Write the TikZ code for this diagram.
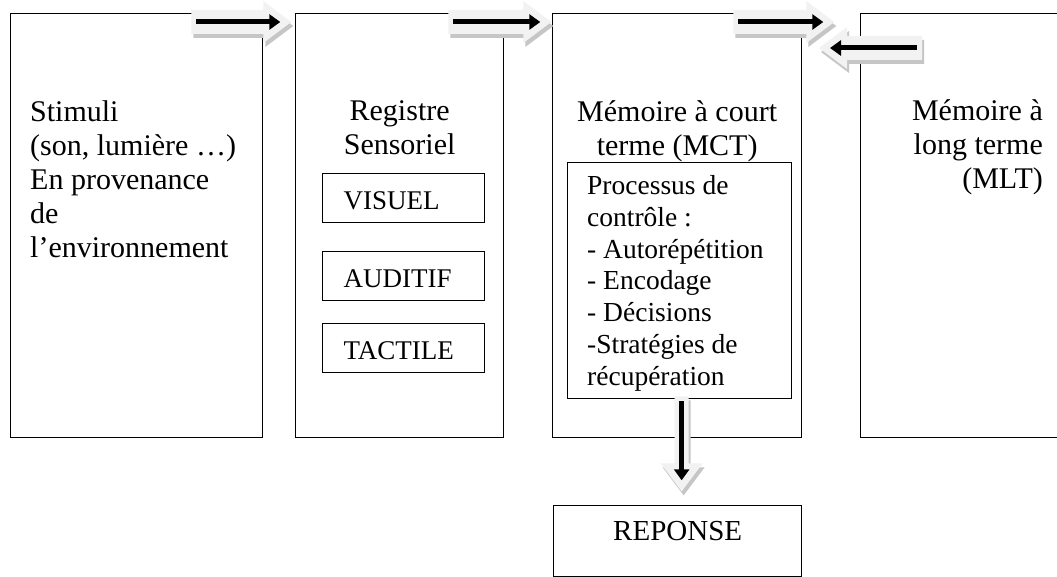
\documentclass[tikz,border=0pt]{standalone}
\usepackage{fontspec}
\setmainfont{Liberation Serif}
\usetikzlibrary{calc,arrows.meta}

\tikzset{
    box/.style={draw, line width=1.3pt, inner sep=0pt},
    lbl/.style={inner sep=0pt, font=\fontsize{30}{34}\selectfont},
    small/.style={inner sep=0pt, font=\fontsize{27.5}{31.7}\selectfont},
    item/.style={box, minimum width=162pt, minimum height=49pt, text width=120pt,
        inner xsep=21pt, align=left, text height=22pt, text depth=0pt,
        font=\fontsize{27}{31}\selectfont},
    arrowfill/.style={fill=gray!10,
        preaction={fill=gray!45, transform canvas={shift={(2pt,-4pt)}}}},
    blackarrow/.style={line width=5pt, -{Triangle[length=11pt,width=15pt]}},
    pics/blockarrow/.style args={#1/#2}{code={
        \fill[arrowfill] (0,-#2) -- ({#1-28},-#2) -- ({#1-28},-21) -- (#1,0)
            -- ({#1-28},21) -- ({#1-28},#2) -- (0,#2) -- cycle;
        \draw[blackarrow] (5,0) -- ({#1-11},0);
    }}
}

\begin{document}
\begin{tikzpicture}[x=1pt,y=-1pt]
    \useasboundingbox (0,0) rectangle (1057,577);
    \clip (0,0) rectangle (1057,577);
    \fill[white] (0,0) rectangle (1057,577);
    % the four stores
    \node[box, anchor=north west, minimum width=252pt, minimum height=424pt] (stim) at (10,13) {};
    \node[box, anchor=north west, minimum width=208pt, minimum height=424pt] (reg) at (295,13) {};
    \node[box, anchor=north west, minimum width=249pt, minimum height=424pt] (mct) at (552,13) {};
    \node[box, anchor=north west, minimum width=240pt, minimum height=424pt] (mlt) at (860,13) {};

    % base anchor sits on the last line
    \node[lbl, anchor=base west, align=left] (stimtxt) at ([xshift=20pt,yshift=-245pt]stim.north west)
        {Stimuli\\(son, lumière …)\\En provenance\\de\\l’environnement};
    \node[lbl, anchor=base, align=center] (regtxt) at ([yshift=-142pt]reg.north) {Registre\\Sensoriel};
    \node[lbl, anchor=base, align=center] (mcttxt) at ([yshift=-143pt]mct.north) {Mémoire à court\\terme (MCT)};
    \node[lbl, anchor=base east, align=right] (mlttxt) at ([xshift=183pt,yshift=-176pt]mlt.north west)
        {Mémoire à\\long terme\\(MLT)};

    % sensory channels
    \foreach \name/\txt/\y in {vis/VISUEL/173, aud/AUDITIF/251, tac/TACTILE/323}{
        \node[item, anchor=north west] (\name) at (322,\y) {\txt};
    }

    % control processes
    \node[box, anchor=north west, minimum width=224pt, minimum height=236pt] (proc) at (567,162) {};
    \node[small, anchor=base west, align=left] (proctxt) at ([xshift=20pt,yshift=-223pt]proc.north west)
        {Processus de\\contrôle :\\- Autorépétition\\- Encodage\\- Décisions\\-Stratégies de\\récupération};

    \node[box, anchor=north west, minimum width=248pt, minimum height=71pt, text height=20pt, text depth=22pt,
        font=\fontsize{29}{33}\selectfont] (rep) at (553,505) {REPONSE};

    % arrows
    \pic at ($(stim.north east)+(-72,9)$) {blockarrow=100/12};
    \pic at ($(reg.north east)+(-56,9)$) {blockarrow=103/12};
    \pic at ($(mct.north east)+(-69,9)$) {blockarrow=101/12};
    \pic[rotate=180] at ($(mlt.north west)+(62,35)$) {blockarrow=103/12};
    \pic[rotate=-90] at ($(proc.south)+(2,-3)$) {blockarrow=95/7};
\end{tikzpicture}
\end{document}
